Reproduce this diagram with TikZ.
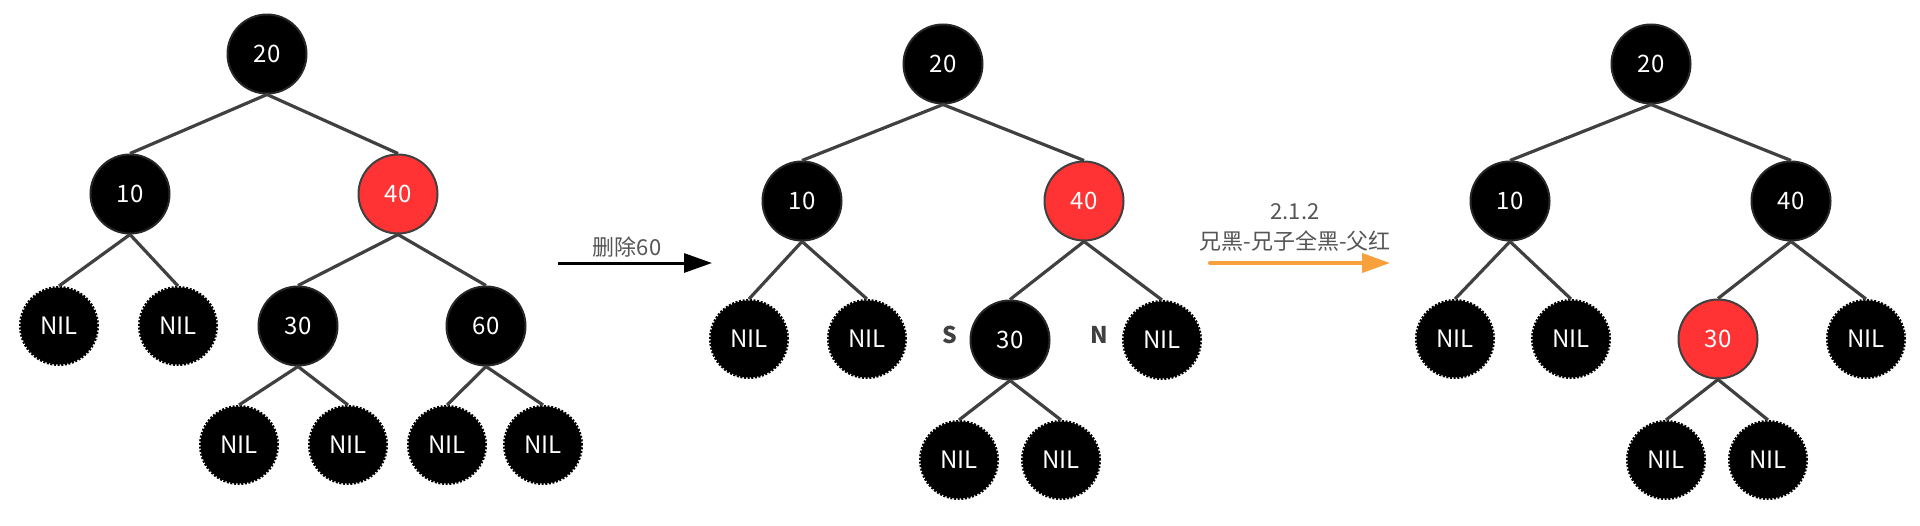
\documentclass[tikz,border=0pt]{standalone}
\usepackage{fontspec}
\setmainfont{Noto Sans CJK SC}
\usetikzlibrary{arrows.meta}
\definecolor{edgegray}{HTML}{404040}
\definecolor{txtgray}{HTML}{555555}
\definecolor{rbred}{HTML}{FF3333}
\definecolor{arrorange}{HTML}{F7A03C}
\begin{document}
\begin{tikzpicture}[x=1pt,y=-1pt,
  blk/.style={circle,fill=black,draw=black!85,line width=2pt,minimum size=79pt,inner sep=0pt,
    text=white,font=\fontsize{24}{28}\selectfont},
  rd/.style={blk,fill=rbred,draw=edgegray},
  nil/.style={circle,fill=black,draw=black,line width=3pt,dash pattern=on 2pt off 1.6pt,
    minimum size=77pt,inner sep=0pt,text=white,font=\fontsize{24}{28}\selectfont},
  edge/.style={draw=edgegray,line width=3.2pt},
  lbl/.style={text=txtgray,font=\fontsize{22}{30}\selectfont,align=center,inner sep=0pt},
  sn/.style={text=edgegray,font=\fontsize{23}{26}\selectfont\bfseries,inner sep=0pt}]
\useasboundingbox (0,0) rectangle (1920,525);

% ---------- tree 1 ----------
\node[blk] (a20) at (267,54) {20};
\node[blk] (a10) at (130,194) {10};
\node[rd]  (a40) at (398,194) {40};
\node[nil] (an1) at (59,326) {NIL};
\node[nil] (an2) at (178,326) {NIL};
\node[blk] (a30) at (298,326) {30};
\node[blk] (a60) at (486,326) {60};
\node[nil] (an3) at (239,445) {NIL};
\node[nil] (an4) at (348,445) {NIL};
\node[nil] (an5) at (447,445) {NIL};
\node[nil] (an6) at (543,445) {NIL};
\draw[edge] (a20.south) -- (a10.north);
\draw[edge] (a20.south) -- (a40.north);
\draw[edge] (a10.south) -- (an1.north);
\draw[edge] (a10.south) -- (an2.north);
\draw[edge] (a40.south) -- (a30.north);
\draw[edge] (a40.south) -- (a60.north);
\draw[edge] (a30.south) -- (an3.north);
\draw[edge] (a30.south) -- (an4.north);
\draw[edge] (a60.south) -- (an5.north);
\draw[edge] (a60.south) -- (an6.north);

% ---------- arrow 1 ----------
\coordinate (p1s) at (558,263);
\coordinate (p1e) at (712,263);
\draw[line width=3pt,black,-{Triangle[length=28pt,width=19pt]}] (p1s) -- (p1e);
\node[lbl] (t1) at (627,247) {删除60};

% ---------- tree 2 ----------
\node[blk] (b20) at (943,64) {20};
\node[blk] (b10) at (802,201) {10};
\node[rd]  (b40) at (1084,201) {40};
\node[nil] (bn1) at (749,339) {NIL};
\node[nil] (bn2) at (867,339) {NIL};
\node[blk] (b30) at (1010,340) {30};
\node[nil] (bn3) at (1162,340) {NIL};
\node[nil] (bn4) at (959,460) {NIL};
\node[nil] (bn5) at (1061,460) {NIL};
\node[sn] (bS) at (950,335) {S};
\node[sn] (bN) at (1099,335) {N};
\draw[edge] (b20.south) -- (b10.north);
\draw[edge] (b20.south) -- (b40.north);
\draw[edge] (b10.south) -- (bn1.north);
\draw[edge] (b10.south) -- (bn2.north);
\draw[edge] (b40.south) -- (b30.north);
\draw[edge] (b40.south) -- (bn3.north);
\draw[edge] (b30.south) -- (bn4.north);
\draw[edge] (b30.south) -- (bn5.north);

% ---------- arrow 2 ----------
\coordinate (p2s) at (1210,263);
\coordinate (p2e) at (1390,263);
\draw[line width=4pt,arrorange,line cap=round,-{Triangle[length=28pt,width=19pt]}] (p2s) -- (p2e);
\node[lbl] (t2) at (1295,227) {2.1.2\\兄黑-兄子全黑-父红};

% ---------- tree 3 ----------
\node[blk] (c20) at (1651,64) {20};
\node[blk] (c10) at (1510,201) {10};
\node[blk] (c40) at (1791,201) {40};
\node[nil] (cn1) at (1455,339) {NIL};
\node[nil] (cn2) at (1571,339) {NIL};
\node[rd]  (c30) at (1718,339) {30};
\node[nil] (cn3) at (1866,339) {NIL};
\node[nil] (cn4) at (1666,460) {NIL};
\node[nil] (cn5) at (1768,460) {NIL};
\draw[edge] (c20.south) -- (c10.north);
\draw[edge] (c20.south) -- (c40.north);
\draw[edge] (c10.south) -- (cn1.north);
\draw[edge] (c10.south) -- (cn2.north);
\draw[edge] (c40.south) -- (c30.north);
\draw[edge] (c40.south) -- (cn3.north);
\draw[edge] (c30.south) -- (cn4.north);
\draw[edge] (c30.south) -- (cn5.north);
\end{tikzpicture}
\end{document}
